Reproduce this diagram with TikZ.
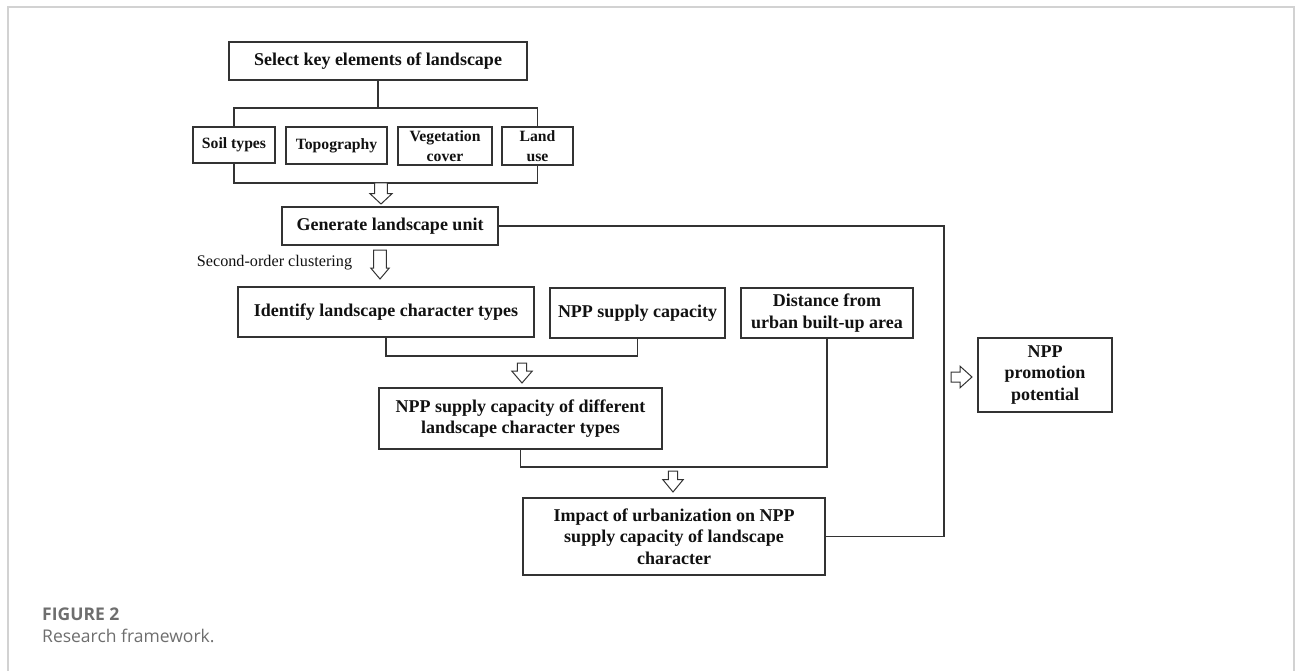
\documentclass[tikz,border=0pt]{standalone}
\usepackage{fontspec}
\setmainfont{Liberation Serif}
\newfontfamily\capfont{Open Sans}
\definecolor{linec}{HTML}{333333}
\definecolor{textc}{HTML}{111111}
\definecolor{framec}{HTML}{D2D2D2}
\definecolor{capc}{HTML}{6E6E6E}
\tikzset{
  box/.style={draw=linec, line width=1.3pt, fill=white, align=center, inner sep=0pt,
    text=textc, font=\fontsize{18}{21.7}\selectfont\bfseries},
  sbox/.style={box, font=\fontsize{15.7}{20}\selectfont\bfseries},
  plain/.style={inner sep=0pt, text=textc, font=\fontsize{16.2}{19}\selectfont},
  conn/.style={draw=linec, line width=1.3pt},
  arrowline/.style={draw=linec, line width=1pt, fill=white, line join=miter},
  framel/.style={draw=framec, line width=1.5pt},
  capt/.style={inner sep=0pt, text=capc, font=\capfont\fontsize{17.5}{21}\selectfont},
  pics/darrow/.style n args={4}{code={
    \draw[arrowline] (-#1,0) -- (-#1,#3) -- (-#2,#3) -- (0,#4) -- (#2,#3) -- (#1,#3) -- (#1,0) -- cycle;}},
  pics/rarrow/.style n args={4}{code={
    \draw[arrowline] (0,-#1) -- (#3,-#1) -- (#3,-#2) -- (#4,0) -- (#3,#2) -- (#3,#1) -- (0,#1) -- cycle;}}
}
\begin{document}
\begin{tikzpicture}[x=1pt,y=-1pt]
\useasboundingbox (0,0) rectangle (1295,671);
\draw[framel] (8,671) -- (8,7) -- (1294,7) -- (1294,671);

\node[box, minimum width=298pt, minimum height=38pt] (sel) at (378,61) {Select key elements of landscape};
\node[sbox, minimum width=82pt, minimum height=36pt] (soil) at (234,145) {Soil types};
\node[sbox, minimum width=101pt, minimum height=37pt] (topo) at (336.5,145.5) {Topography};
\node[sbox, minimum width=94pt, minimum height=38pt] (veg) at (445,146) {Vegetation\\cover};
\node[sbox, minimum width=71pt, minimum height=38pt] (land) at (537.5,146) {Land\\use};
\node[box, minimum width=216pt, minimum height=38pt] (gen) at (390,226) {Generate landscape unit};
\node[plain] (soc) at (274.5,263) {Second-order clustering};
\node[box, minimum width=296pt, minimum height=50pt] (ident) at (386,312) {Identify landscape character types};
\node[box, minimum width=175pt, minimum height=50pt] (sup) at (637.5,313) {NPP supply capacity};
\node[box, minimum width=172pt, minimum height=50pt] (dist) at (827,313) {Distance from\\urban built-up area};
\node[box, minimum width=283pt, minimum height=61pt] (diff) at (520.5,418.5) {NPP supply capacity of different\\landscape character types};
\node[box, minimum width=302pt, minimum height=77pt] (imp) at (674,536.5) {Impact of urbanization on NPP\\supply capacity of landscape\\character};
\node[box, minimum width=134pt, minimum height=74pt] (promo) at (1045,375) {NPP\\promotion\\potential};

% bracket above the four element boxes
\coordinate (b1) at (378,108);
\draw[conn] (sel.south) -- (b1);
\draw[conn] (soil.north) |- (b1) -| (land.north);
% bracket below the four element boxes
\coordinate (b2) at (381,183);
\draw[conn] (soil.south) |- (b2) -| (land.south);
\pic at (b2) {darrow={6.3}{11}{10.7}{21}};
% second-order clustering arrow
\coordinate (a2) at (380,250);
\pic at (a2) {darrow={6.3}{9.3}{18}{29}};
% bracket below identify / supply
\coordinate (b3) at (522,356);
\draw[conn] (ident.south) |- (b3) -| (sup.south);
\coordinate (a3) at (522,363);
\pic at (a3) {darrow={4.7}{10.3}{8}{20}};
% bracket below different / distance
\coordinate (b4) at (673,467);
\draw[conn] (diff.south) |- (b4) -| (dist.south);
\coordinate (a4) at (673,471);
\pic at (a4) {darrow={4.7}{10.3}{8.5}{21}};
% right-hand loop
\coordinate (rx) at (944,380);
\draw[conn] (gen.east) -| (rx) |- (imp.east);
\coordinate (a5) at (951,377);
\pic at (a5) {rarrow={5}{10.8}{9}{21}};

\node[capt, anchor=base west] (fig) at (42,620) {\bfseries FIGURE 2};
\node[capt, anchor=base west] (cap) at (42,642) {Research framework.};
\end{tikzpicture}
\end{document}
